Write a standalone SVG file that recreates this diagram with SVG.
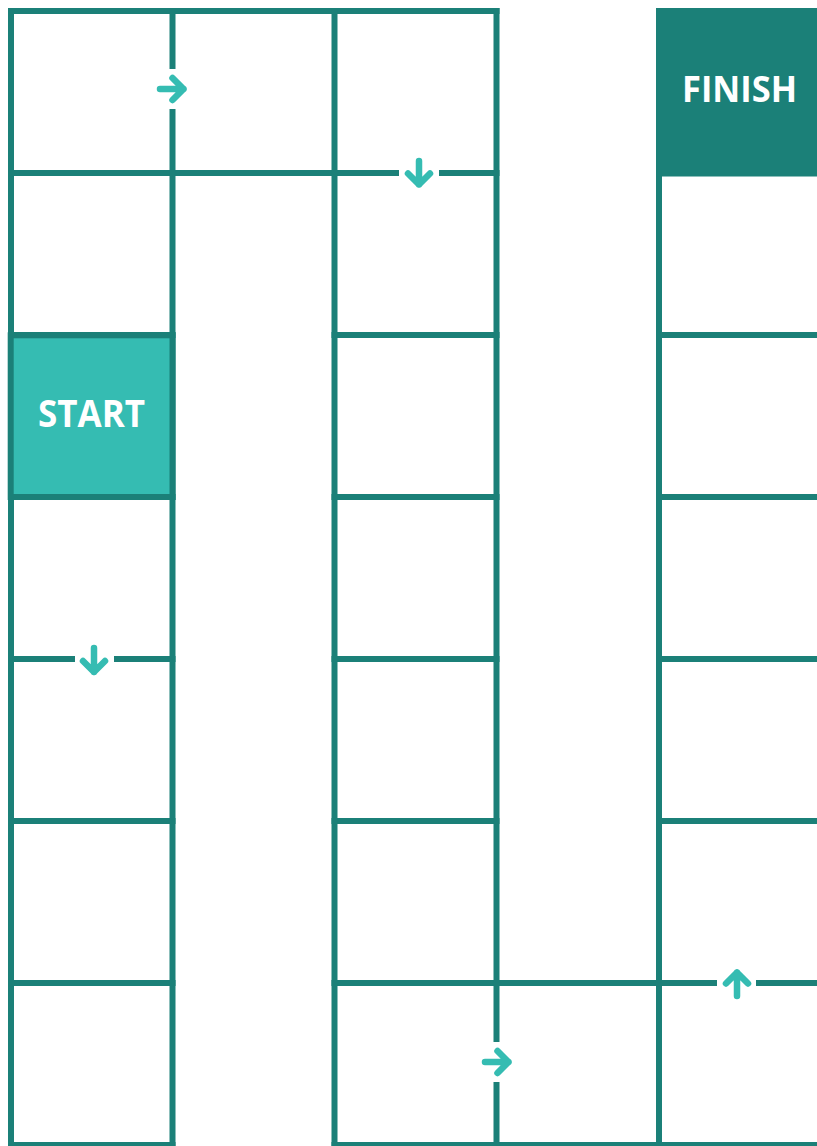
<svg xmlns="http://www.w3.org/2000/svg" width="817" height="1146" viewBox="0 0 817 1146">
<style>
.g{stroke:#1B8078;stroke-width:6;fill:none;stroke-linecap:square}
.a{stroke:#35BCB2;stroke-width:6.5;fill:none;stroke-linecap:round;stroke-linejoin:round}
.t{font-family:"Open Sans","Liberation Sans",sans-serif;font-weight:700;fill:#FFFFFF;text-anchor:middle}
</style>
<rect width="817" height="1146" fill="#FFFFFF"/>
<g id="grid" class="g">
<path d="M11 11H496.5M11 173H396M442 173H496.5"/>
<path d="M11 335H172.5M334.5 335H496.5M659 335H820"/>
<path d="M11 497H172.5M334.5 497H496.5M659 497H820"/>
<path d="M11 659H72M117 659H172.5M334.5 659H496.5M659 659H820"/>
<path d="M11 821H172.5M334.5 821H496.5M659 821H820"/>
<path d="M11 983H172.5M334.5 983H714M759 983H820"/>
<path d="M11 1145H172.5M334.5 1145H820"/>
<path d="M11 11V1145M172.5 11V66M172.5 112V1145M334.5 11V1145M496.5 11V1039M496.5 1085V1145M659 176V1145"/>
</g>
<g id="start">
<rect x="10.7" y="335.3" width="161.8" height="161.7" fill="#35BCB2" stroke="#1B8078" stroke-width="6"/>
<text class="t" x="91.5" y="427" font-size="37" textLength="107" lengthAdjust="spacingAndGlyphs">START</text>
</g>
<g id="finish">
<rect x="656" y="8" width="161" height="168.5" fill="#1B8078"/>
<text class="t" x="739.5" y="102" font-size="36" textLength="115" lengthAdjust="spacingAndGlyphs">FINISH</text>
</g>
<g id="connectors" class="a">
<path d="M160 89H183.5M172.5 78L183.5 89L172.5 100"/>
<path d="M419 161V184.5M408 173.5L419 184.5L430 173.5"/>
<path d="M94 648V672M83 661L94 672L105 661"/>
<path d="M485 1062H508.5M497.5 1051L508.5 1062L497.5 1073"/>
<path d="M737 996V972.5M726 983.5L737 972.5L748 983.5"/>
</g>
</svg>
